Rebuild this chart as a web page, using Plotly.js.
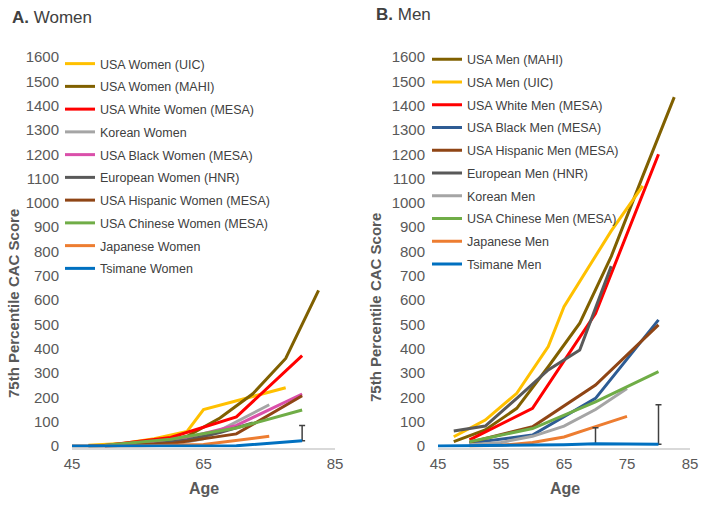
<!DOCTYPE html>
<html>
<head>
<meta charset="utf-8">
<script src="https://cdn.plot.ly/plotly-3.0.1.min.js"></script>
<style>html,body{margin:0;padding:0;background:#fff;}#chart{width:701px;height:508px;}</style>
</head>
<body>
<div id="chart"></div>
<script>
// ---------- Women (panel A) ----------
const womenUicAge = [47.5, 52.5, 57.5, 62.5, 65, 72.5, 77.5];
const womenUicCac = [3, 10, 30, 60, 150, 205, 240];
const womenMahiAge = [47.5, 52.5, 57.5, 62.5, 67.5, 72.5, 77.5, 82.5];
const womenMahiCac = [1, 3, 12, 40, 115, 215, 360, 640];
const womenWhiteAge = [50, 60, 70, 80];
const womenWhiteCac = [2, 35, 120, 372];
const womenKoreanAge = [50, 55, 60, 65, 70, 75];
const womenKoreanCac = [0, 1, 5, 30, 100, 170];
const womenBlackAge = [50, 60, 70, 80];
const womenBlackCac = [1, 18, 85, 214];
const womenEuroAge = [47.5, 52.5, 57.5, 62.5, 67.5, 72.5];
const womenEuroCac = [0, 2, 8, 25, 55, 95];
const womenHispAge = [50, 60, 70, 80];
const womenHispCac = [0, 10, 50, 207];
const womenChinAge = [50, 60, 70, 80];
const womenChinCac = [3, 28, 74, 148];
const womenJapAge = [45, 55, 65, 75];
const womenJapCac = [0, 0, 6, 40];
const womenTsiAge = [45, 50, 55, 60, 65, 70, 80];
const womenTsiCac = [0, 0, 0, 0, 0, 1, 22];
const womenTsiErrAge = [80];
const womenTsiErrCac = [22];
const womenTsiErrPlus = [62];

// ---------- Men (panel B) ----------
const menMahiAge = [47.5, 52.5, 57.5, 62.5, 67.5, 72.5, 77.5, 82.5];
const menMahiCac = [18, 66, 155, 326, 505, 780, 1110, 1435];
const menUicAge = [47.5, 52.5, 57.5, 62.5, 65, 72.5, 77.5];
const menUicCac = [38, 107, 217, 409, 573, 885, 1070];
const menWhiteAge = [50, 60, 70, 80];
const menWhiteCac = [25, 155, 545, 1200];
const menBlackAge = [50, 60, 70, 80];
const menBlackCac = [12, 45, 196, 519];
const menHispAge = [50, 60, 70, 80];
const menHispCac = [15, 79, 251, 498];
const menEuroAge = [47.5, 52.5, 57.5, 62.5, 67.5, 72.5];
const menEuroCac = [62, 82, 196, 313, 395, 740];
const menKoreanAge = [50, 55, 60, 65, 70, 75];
const menKoreanCac = [5, 15, 40, 82, 150, 237];
const menChinAge = [50, 60, 70, 80];
const menChinCac = [18, 72, 182, 306];
const menJapAge = [50, 55, 60, 65, 70, 75];
const menJapCac = [0, 3, 15, 37, 80, 122];
const menTsiAge = [45, 55, 65, 70, 80];
const menTsiCac = [0, 2, 5, 9, 7];
const menTsiErrAge = [70, 80];
const menTsiErrCac = [9, 7];
const menTsiErrPlus = [66, 163];

// ---------- Labels / ticks ----------
const womenNames = ["USA Women (UIC)", "USA Women (MAHI)", "USA White Women (MESA)", "Korean Women",
  "USA Black Women (MESA)", "European Women (HNR)", "USA Hispanic Women (MESA)",
  "USA Chinese Women (MESA)", "Japanese Women", "Tsimane Women"];
const menNames = ["USA Men (MAHI)", "USA Men (UIC)", "USA White Men (MESA)", "USA Black Men (MESA)",
  "USA Hispanic Men (MESA)", "European Men (HNR)", "Korean Men", "USA Chinese Men (MESA)",
  "Japanese Men", "Tsimane Men"];
const xTicksWomen = [45, 65, 85];
const xTicksMen = [45, 55, 65, 75, 85];

const C = {
  uic: "#FFC000", mahi: "#806000", white: "#FF0000", korean: "#A5A5A5",
  blackW: "#DA4FAA", blackM: "#2E5C94", euro: "#595959", hisp: "#8F4515",
  chin: "#70AD47", jap: "#ED7D31", tsi: "#0070C0"
};

const FONT = "Liberation Sans, Arial, sans-serif";
const W = 701, H = 508;
const px = v => v / W, py = v => 1 - v / H;

function line(x, y, name, color, xa, ya, leg, grp) {
  return {x: x, y: y, name: name, type: "scatter", mode: "lines",
    line: {color: color, width: 3}, xaxis: xa, yaxis: ya, legend: leg,
    legendgroup: grp, hoverinfo: "skip"};
}
function errTrace(x, y, plus, xa, ya) {
  return {x: x, y: y, type: "scatter", mode: "markers", marker: {size: 1, opacity: 0},
    showlegend: false, xaxis: xa, yaxis: ya, hoverinfo: "skip",
    error_y: {type: "data", symmetric: false, array: plus, arrayminus: plus.map(() => 0),
      color: "#404040", thickness: 1.5, width: 3}};
}

const data = [
  line(womenUicAge, womenUicCac, womenNames[0], C.uic, "x", "y", "legend", "w0"),
  line(womenMahiAge, womenMahiCac, womenNames[1], C.mahi, "x", "y", "legend", "w1"),
  line(womenWhiteAge, womenWhiteCac, womenNames[2], C.white, "x", "y", "legend", "w2"),
  line(womenKoreanAge, womenKoreanCac, womenNames[3], C.korean, "x", "y", "legend", "w3"),
  line(womenBlackAge, womenBlackCac, womenNames[4], C.blackW, "x", "y", "legend", "w4"),
  line(womenEuroAge, womenEuroCac, womenNames[5], C.euro, "x", "y", "legend", "w5"),
  line(womenHispAge, womenHispCac, womenNames[6], C.hisp, "x", "y", "legend", "w6"),
  line(womenChinAge, womenChinCac, womenNames[7], C.chin, "x", "y", "legend", "w7"),
  line(womenJapAge, womenJapCac, womenNames[8], C.jap, "x", "y", "legend", "w8"),
  errTrace(womenTsiErrAge, womenTsiErrCac, womenTsiErrPlus, "x", "y"),
  line(womenTsiAge, womenTsiCac, womenNames[9], C.tsi, "x", "y", "legend", "w9"),

  line(menMahiAge, menMahiCac, menNames[0], C.mahi, "x2", "y2", "legend2", "m0"),
  line(menUicAge, menUicCac, menNames[1], C.uic, "x2", "y2", "legend2", "m1"),
  line(menWhiteAge, menWhiteCac, menNames[2], C.white, "x2", "y2", "legend2", "m2"),
  line(menBlackAge, menBlackCac, menNames[3], C.blackM, "x2", "y2", "legend2", "m3"),
  line(menHispAge, menHispCac, menNames[4], C.hisp, "x2", "y2", "legend2", "m4"),
  line(menEuroAge, menEuroCac, menNames[5], C.euro, "x2", "y2", "legend2", "m5"),
  line(menKoreanAge, menKoreanCac, menNames[6], C.korean, "x2", "y2", "legend2", "m6"),
  line(menChinAge, menChinCac, menNames[7], C.chin, "x2", "y2", "legend2", "m7"),
  line(menJapAge, menJapCac, menNames[8], C.jap, "x2", "y2", "legend2", "m8"),
  errTrace(menTsiErrAge, menTsiErrCac, menTsiErrPlus, "x2", "y2"),
  line(menTsiAge, menTsiCac, menNames[9], C.tsi, "x2", "y2", "legend2", "m9")
];

const tickFont = {family: FONT, size: 15, color: "#595959"};
const yBase = {range: [-6, 1600], dtick: 100, tick0: 0, showgrid: false, zeroline: false,
  showline: false, ticks: "", tickfont: tickFont, ticklabelstandoff: 12,
  domain: [py(447.5), py(57)], fixedrange: true};
const xBase = {range: [45, 85], showgrid: false, zeroline: false, showline: true,
  linecolor: "#D9D9D9", linewidth: 2, ticks: "", tickfont: tickFont,
  ticklabelstandoff: 1, ticklabeloverflow: "allow", fixedrange: true, tickmode: "array"};

const legBase = {bgcolor: "rgba(0,0,0,0)", borderwidth: 0, font: {family: FONT, size: 12.5, color: "#404040"},
  xanchor: "left", yanchor: "top", traceorder: "grouped", tracegroupgap: 3.5, itemwidth: 30};

function ann(text, x, y, size, opts) {
  return Object.assign({text: text, x: px(x), y: py(y), xref: "paper", yref: "paper",
    showarrow: false, font: {family: FONT, size: size, color: "#595959"}}, opts || {});
}

const layout = {
  width: W, height: H, margin: {l: 0, r: 0, t: 0, b: 0},
  paper_bgcolor: "#fff", plot_bgcolor: "rgba(0,0,0,0)", showlegend: true,
  xaxis: Object.assign({}, xBase, {domain: [px(72), px(335)], anchor: "y", tickvals: xTicksWomen}),
  yaxis: Object.assign({}, yBase, {anchor: "x"}),
  xaxis2: Object.assign({}, xBase, {domain: [px(438), px(690)], anchor: "y2", tickvals: xTicksMen}),
  yaxis2: Object.assign({}, yBase, {anchor: "x2"}),
  legend: Object.assign({}, legBase, {x: px(60), y: py(49)}),
  legend2: Object.assign({}, legBase, {x: px(427), y: py(44.5)}),
  annotations: [
    ann("<b>A.</b> Women", 10, 17, 17, {xanchor: "left", yanchor: "middle", font: {family: FONT, size: 17, color: "#404040"}}),
    ann("<b>B.</b> Men", 374, 15, 17, {xanchor: "left", yanchor: "middle", font: {family: FONT, size: 17, color: "#404040"}}),
    ann("<b>75th Percentile CAC Score</b>", 13, 304, 15, {textangle: -90, xanchor: "center", yanchor: "middle"}),
    ann("<b>75th Percentile CAC Score</b>", 375, 308, 15, {textangle: -90, xanchor: "center", yanchor: "middle"}),
    ann("<b>Age</b>", 204, 488, 16, {xanchor: "center", yanchor: "middle"}),
    ann("<b>Age</b>", 565, 488, 16, {xanchor: "center", yanchor: "middle"})
  ]
};

Plotly.newPlot("chart", data, layout, {displayModeBar: false, staticPlot: true});
</script>
</body>
</html>
